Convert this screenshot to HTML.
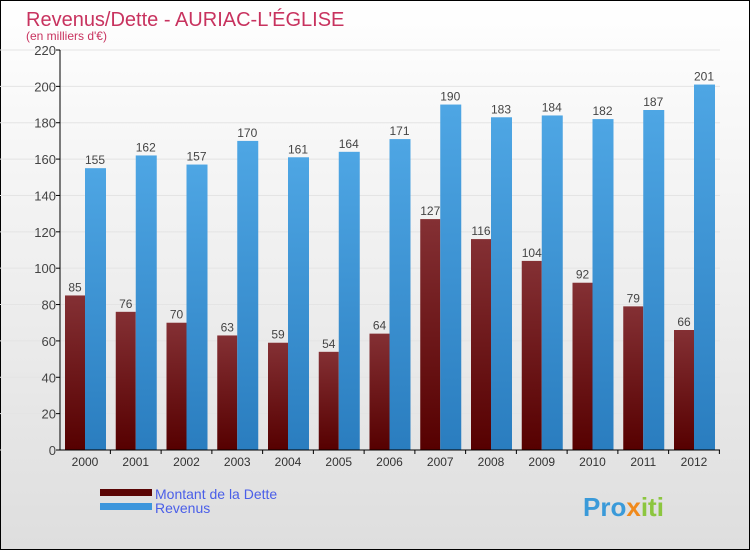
<!DOCTYPE html>
<html><head><meta charset="utf-8"><style>
body{margin:0}
svg text{font-family:"Liberation Sans",sans-serif}
</style></head><body>
<svg width="750" height="550" xmlns="http://www.w3.org/2000/svg">
<defs>
<linearGradient id="bg" x1="0" y1="0" x2="0" y2="1"><stop offset="0" stop-color="#ffffff"/><stop offset="1" stop-color="#dedede"/></linearGradient>
<linearGradient id="gd" x1="0" y1="0" x2="0" y2="1"><stop offset="0" stop-color="#843034"/><stop offset="1" stop-color="#560000"/></linearGradient>
<linearGradient id="gr" x1="0" y1="0" x2="0" y2="1"><stop offset="0" stop-color="#4ea6e4"/><stop offset="1" stop-color="#2a7dbf"/></linearGradient>
</defs>
<rect x="0.5" y="0.5" width="749" height="549" fill="url(#bg)" stroke="#000"/>
<text x="26" y="26" font-size="20" fill="#c8335f">Revenus/Dette - AURIAC-L'ÉGLISE</text>
<text x="26" y="40" font-size="12" fill="#c8335f">(en milliers d'€)</text>
<g id="axes"></g>
<g id="bars"></g>
<rect x="100" y="489" width="52" height="7" fill="#5a0505"/>
<text x="155" y="499" font-size="14" fill="#4a5ee8">Montant de la Dette</text>
<rect x="100" y="503" width="52" height="7" fill="#3d96dc"/>
<text x="155" y="513" font-size="14" fill="#4a5ee8">Revenus</text>
<text x="583" y="516" font-size="26" font-weight="bold" fill="#3a9ad9">Pro<tspan fill="#f08a1c">x</tspan><tspan fill="#8cc63f">iti</tspan></text>
</svg>
<script>
const years=["2000","2001","2002","2003","2004","2005","2006","2007","2008","2009","2010","2011","2012"];
const dette=[85,76,70,63,59,54,64,127,116,104,92,79,66];
const revenus=[155,162,157,170,161,164,171,190,183,184,182,187,201];
const yTicks=[0,20,40,60,80,100,120,140,160,180,200,220];
const NS="http://www.w3.org/2000/svg";
const y0=450,yTop=50,yMax=220,x0=60,step=50.75,first=85;
const ys=v=>y0-(v/yMax)*(y0-yTop);
const xs=i=>first+i*step;
function mk(tag,attrs,parent,txt){const e=document.createElementNS(NS,tag);for(const k in attrs)e.setAttribute(k,attrs[k]);if(txt!==undefined)e.textContent=txt;parent.appendChild(e);return e;}
const ax=document.getElementById('axes'),bg=document.getElementById('bars');
yTicks.forEach(t=>{
  const g=mk('line',{x1:0,x2:720,y1:ys(t),y2:ys(t),stroke:'#e4e4e4'},ax);
  
  
  const l=mk('line',{x1:x0-4,x2:x0,y1:ys(t),y2:ys(t),stroke:'#000'},ax);
  
  
  const tx=mk('text',{x:x0-4,y:ys(t)+5,'font-size':13,fill:'#444','text-anchor':'end'},ax,t);
  
  
});
years.forEach((yr,i)=>{
  const cx=xs(i);
  const d=mk('rect',{x:cx-20,y:ys(dette[i]),width:20,height:y0-ys(dette[i]),fill:'url(#gd)'},bg);
  
  
  const r=mk('rect',{x:cx,y:ys(revenus[i]),width:21,height:y0-ys(revenus[i]),fill:'url(#gr)'},bg);
  
  
  const dl=mk('text',{x:cx-10,y:ys(dette[i])-4,'font-size':12,fill:'#444','text-anchor':'middle'},bg,dette[i]);
  
  
  const rl=mk('text',{x:cx+10,y:ys(revenus[i])-4,'font-size':12,fill:'#444','text-anchor':'middle'},bg,revenus[i]);
  
  
  const xl=mk('text',{x:cx,y:466,'font-size':12,fill:'#333','text-anchor':'middle'},bg,yr);
  
  
  const xt=mk('line',{x1:cx+step/2,x2:cx+step/2,y1:y0,y2:y0+4,stroke:'#000'},bg);
  
  
});
const ya=mk('line',{x1:x0,x2:x0,y1:yTop,y2:y0,stroke:'#000'},bg);


const xa=mk('line',{x1:x0,x2:720,y1:y0,y2:y0,stroke:'#000'},bg);


</script>
</body></html>
